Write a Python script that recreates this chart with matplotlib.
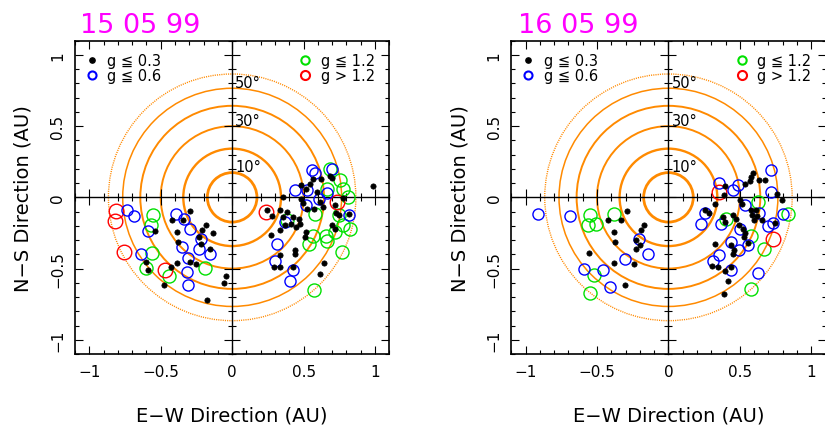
import numpy as np
import matplotlib
matplotlib.use("Agg")
import matplotlib.pyplot as plt
from matplotlib.patches import Circle
from matplotlib.lines import Line2D
from matplotlib.ticker import MultipleLocator

plt.rcParams['font.family'] = ['DejaVu Sans', 'Noto Sans CJK JP']

# ---------------- data ----------------
titles = ["15 05 99", "16 05 99"]
elong_deg = [10, 20, 30, 40, 50, 60]
elong_label_deg = [10, 30, 50]
legend_labels = ["g ≦ 0.3", "g ≦ 0.6", "g ≦ 1.2", "g > 1.2"]
tick_values = [-1, -0.5, 0, 0.5, 1]
tick_labels = ["−1", "−0.5", "0", "0.5", "1"]
xlabel = "E−W Direction (AU)"
ylabel = "N−S Direction (AU)"

# Panel 1 : 15 05 99
p1_black_x = [-0.294, -0.420, -0.345, -0.182, -0.538, -0.210, -0.131, -0.389, -0.382, -0.233,
              -0.215, -0.154, -0.298, -0.252, -0.387, -0.427, -0.606, -0.592, -0.480, -0.042,
              -0.056, -0.173,
              0.988, 0.480, 0.517, 0.545, 0.569, 0.620, 0.685, 0.697, 0.592, 0.354,
              0.480, 0.495, 0.615, 0.639, 0.573, 0.522, 0.720, 0.779, 0.727, 0.745,
              0.820, 0.382, 0.429, 0.465, 0.371, 0.476, 0.445, 0.517, 0.510, 0.697,
              0.720, 0.242, 0.277, 0.336, 0.359, 0.413, 0.336, 0.270, 0.336, 0.296,
              0.336, 0.441, 0.441, 0.424, 0.646, 0.615]
p1_black_y = [-0.099, -0.162, -0.162, -0.192, -0.239, -0.232, -0.249, -0.244, -0.315, -0.280,
              -0.329, -0.366, -0.451, -0.467, -0.460, -0.486, -0.451, -0.507, -0.615, -0.554,
              -0.601, -0.718,
              0.077, 0.085, 0.061, 0.096, 0.131, 0.131, 0.150, 0.136, 0.038, 0.002,
              -0.009, -0.040, -0.033, -0.068, -0.080, -0.080, -0.056, -0.005, -0.108, -0.125,
              -0.120, -0.103, -0.139, -0.150, -0.197, -0.185, -0.210, -0.244, -0.279, -0.197,
              -0.225, -0.092, -0.134, -0.087, -0.139, -0.185, -0.228, -0.261, -0.408, -0.486,
              -0.486, -0.373, -0.401, -0.491, -0.460, -0.537]
p1_blue_x = [-0.736, -0.690, -0.392, -0.338, -0.592, -0.298, -0.219, -0.350, -0.233, -0.154,
             -0.638, -0.306, -0.317, -0.306,
             0.557, 0.580, 0.697, 0.441, 0.522, 0.517, 0.611, 0.667, 0.820, 0.371,
             0.317, 0.301, 0.424, 0.406]
p1_blue_y = [-0.087, -0.131, -0.115, -0.150, -0.239, -0.225, -0.291, -0.350, -0.361, -0.397,
             -0.401, -0.427, -0.521, -0.613,
             0.195, 0.171, 0.197, 0.049, 0.049, -0.056, -0.014, 0.030, -0.122, -0.174,
             -0.326, -0.444, -0.509, -0.585]
p1_green_x = [-0.557, -0.566, -0.562, -0.606, -0.443, -0.187,
              0.685, 0.755, 0.779, 0.814, 0.662, 0.580, 0.382, 0.750, 0.779, 0.825,
              0.720, 0.657, 0.564, 0.541, 0.662, 0.767, 0.573]
p1_green_y = [-0.122, -0.192, -0.390, -0.498, -0.549, -0.498,
              0.202, 0.120, 0.061, 0.002, 0.061, -0.115, -0.162, -0.127, -0.197, -0.225,
              -0.244, -0.268, -0.268, -0.331, -0.308, -0.385, -0.650]
p1_red_x = [-0.813, -0.823, -0.755, -0.468, 0.238, 0.732]
p1_red_y = [-0.099, -0.167, -0.385, -0.507, -0.103, -0.033]

# Panel 2 : 16 05 99
p2_black_x = [-0.287, -0.426, -0.329, -0.171, -0.195, -0.381, -0.376, -0.226, -0.202, -0.230,
              -0.555, -0.383, -0.242, -0.301,
              0.593, 0.581, 0.570, 0.534, 0.635, 0.675, 0.398, 0.388, 0.499, 0.515,
              0.758, 0.793, 0.323, 0.257, 0.287, 0.381, 0.398, 0.452, 0.470, 0.492,
              0.577, 0.610, 0.586, 0.620, 0.600, 0.652, 0.746, 0.522, 0.327, 0.435,
              0.459, 0.452, 0.529, 0.535, 0.558, 0.303, 0.346, 0.435, 0.398, 0.416,
              0.388]
p2_black_y = [-0.099, -0.157, -0.157, -0.192, -0.230, -0.244, -0.315, -0.303, -0.333, -0.366,
              -0.390, -0.460, -0.467, -0.613,
              0.171, 0.143, 0.115, 0.096, 0.120, 0.125, 0.077, 0.014, -0.021, -0.045,
              0.026, -0.016, -0.045, -0.092, -0.110, -0.139, -0.174, -0.127, -0.150, -0.197,
              -0.092, -0.090, -0.127, -0.130, -0.160, -0.162, -0.181, -0.220, -0.326, -0.338,
              -0.368, -0.401, -0.279, -0.250, -0.322, -0.479, -0.486, -0.491, -0.514, -0.585,
              -0.678]
p2_blue_x = [-0.912, -0.689, -0.207, -0.141, -0.301, -0.588, -0.461, -0.407,
             0.718, 0.353, 0.487, 0.452, 0.718, 0.534, 0.259, 0.229, 0.370, 0.504,
             0.635, 0.699, 0.730, 0.805, 0.440, 0.558, 0.494, 0.353, 0.311, 0.440,
             0.628]
p2_blue_y = [-0.115, -0.134, -0.291, -0.397, -0.432, -0.502, -0.509, -0.632,
             0.190, 0.101, 0.089, 0.049, 0.040, -0.056, -0.110, -0.190, -0.185, -0.220,
             -0.110, -0.204, -0.180, -0.120, -0.315, -0.338, -0.373, -0.408, -0.444, -0.509,
             -0.533]
p2_green_x = [-0.548, -0.383, -0.565, -0.508, -0.524, -0.548,
              0.628, 0.840, 0.401, 0.577, 0.671, 0.581]
p2_green_y = [-0.122, -0.115, -0.197, -0.185, -0.544, -0.674,
              -0.033, -0.120, -0.150, -0.268, -0.361, -0.643]
p2_red_x = [0.351, 0.730]
p2_red_y = [0.038, -0.291]

panels = [
    dict(title=titles[0], left=75 / 825, title_x=0.016,
         black=(p1_black_x, p1_black_y), blue=(p1_blue_x, p1_blue_y),
         green=(p1_green_x, p1_green_y), red=(p1_red_x, p1_red_y)),
    dict(title=titles[1], left=511.3 / 825, title_x=0.021,
         black=(p2_black_x, p2_black_y), blue=(p2_blue_x, p2_blue_y),
         green=(p2_green_x, p2_green_y), red=(p2_red_x, p2_red_y)),
]

# ---------------- style ----------------
ORANGE = "#ff8a00"
BLUE = "#0000ff"
GREEN = "#00e000"
RED = "#ff0000"
MAGENTA = "#ff00ff"
circle_lw = [2.0, 1.7, 1.4, 1.4, 1.1, 1.0]
circle_ls = ['-', '-', '-', '-', '-', (0, (0.8, 0.8))]

fig = plt.figure(figsize=(8.25, 4.27), dpi=100)
W, H = 314.3 / 825, 313.3 / 427
B = (427 - 355) / 427

for p in panels:
    pos = [p['left'], B, W, H]
    axb = fig.add_axes(pos, zorder=0)
    ax = fig.add_axes(pos, zorder=1)
    ax.patch.set_visible(False)
    for a in (axb, ax):
        a.set_xlim(-1.1, 1.1)
        a.set_ylim(-1.1, 1.1)
        a.xaxis.set_minor_locator(MultipleLocator(0.1))
        a.yaxis.set_minor_locator(MultipleLocator(0.1))

    # background: elongation circles + crosshair axes through the origin
    for i, ang in enumerate(elong_deg):
        r = np.sin(np.radians(ang))
        axb.add_patch(Circle((0, 0), r, fill=False, ec=ORANGE, lw=circle_lw[i],
                             ls=circle_ls[i], zorder=1))
    for ang in elong_label_deg:
        r = np.sin(np.radians(ang))
        axb.text(0.022, r - 0.01, f"{ang}°", fontsize=10.5, ha='left', va='bottom', zorder=3)
    axb.set_xticks(tick_values)
    axb.set_yticks(tick_values)
    axb.spines['left'].set_position(('data', 0))
    axb.spines['bottom'].set_position(('data', 0))
    axb.spines['top'].set_visible(False)
    axb.spines['right'].set_visible(False)
    for s in ('left', 'bottom'):
        axb.spines[s].set_linewidth(1.0)
    axb.tick_params(which='both', direction='inout', labelleft=False, labelbottom=False,
                    top=False, right=False, width=0.8)
    axb.tick_params(which='major', length=11.5)
    axb.tick_params(which='minor', length=5.8)

    # points
    ax.plot(*p['green'], ls='none', marker='o', ms=9.4, mfc='none', mec=GREEN, mew=1.0, zorder=3)
    ax.plot(*p['red'], ls='none', marker='o', ms=10.5, mfc='none', mec=RED, mew=1.0, zorder=3)
    ax.plot(*p['blue'], ls='none', marker='o', ms=8.0, mfc='none', mec=BLUE, mew=1.0, zorder=4)
    ax.plot(*p['black'], ls='none', marker='o', ms=3.8, mfc='k', mec='k', mew=0.5, zorder=5)

    # frame
    ax.set_xticks(tick_values, tick_labels)
    ax.set_yticks(tick_values, tick_labels, rotation=90, va='center')
    for s in ax.spines.values():
        s.set_linewidth(1.2)
    ax.tick_params(which='both', direction='in', top=True, right=True, width=0.8,
                   labelsize=11, pad=7)
    ax.tick_params(which='major', length=5.8)
    ax.tick_params(which='minor', length=2.9)
    ax.set_xlabel(xlabel, fontsize=14)
    ax.set_ylabel(ylabel, fontsize=14)
    ax.xaxis.set_label_coords(0.5, -0.163)
    ax.yaxis.set_label_coords(-0.134, 0.5)

    ax.text(p['title_x'], 1.027, p['title'], transform=ax.transAxes, fontsize=19.5,
            color=MAGENTA, ha='left', va='baseline')

    # legends
    h_left = [Line2D([], [], ls='none', marker='o', ms=3.8, mfc='k', mec='k'),
              Line2D([], [], ls='none', marker='o', ms=5.8, mfc='none', mec=BLUE, mew=1.5)]
    h_right = [Line2D([], [], ls='none', marker='o', ms=6.0, mfc='none', mec=GREEN, mew=1.5),
               Line2D([], [], ls='none', marker='o', ms=6.5, mfc='none', mec=RED, mew=1.5)]
    common = dict(frameon=False, fontsize=10.5, handlelength=1.0, handletextpad=0.55,
                  labelspacing=0.0, borderpad=0, borderaxespad=0, loc='upper left')
    leg1 = ax.legend(h_left, legend_labels[:2], bbox_to_anchor=(0.031, 0.962), **common)
    ax.add_artist(leg1)
    ax.legend(h_right, legend_labels[2:], bbox_to_anchor=(0.710, 0.962), **common)

fig.savefig("out.png", dpi=100)
